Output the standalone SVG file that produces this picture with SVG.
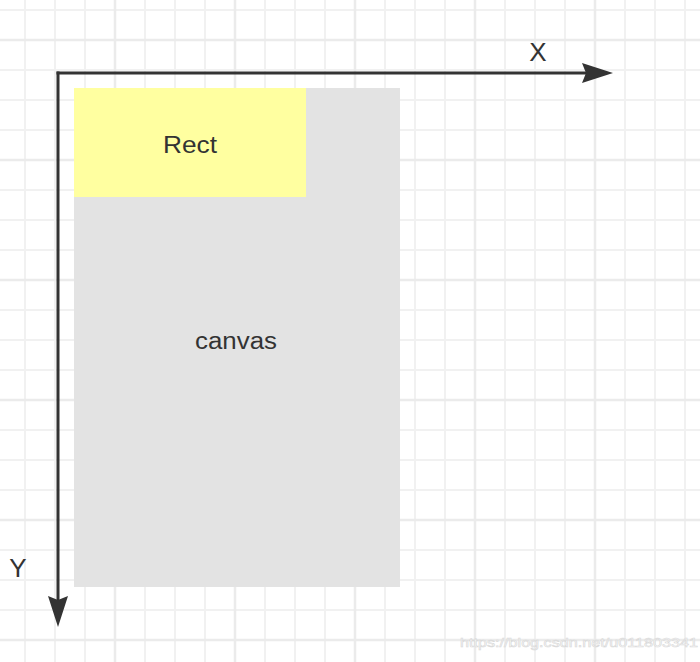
<svg xmlns="http://www.w3.org/2000/svg" width="700" height="662" viewBox="0 0 700 662">
  <style>
    .grid-minor { stroke: #f1f1f1; stroke-width: 2; fill: none; }
    .grid-major { stroke: #ebebeb; stroke-width: 2.5; fill: none; }
    .axis { stroke: #333333; stroke-width: 3; fill: none; }
    .label { font-family: "Liberation Sans", Arial, Helvetica, sans-serif; fill: #333333; text-anchor: middle; }
    .watermark { font-family: "Liberation Sans", Arial, sans-serif; font-size: 13px; fill: #ffffff; stroke: #d8d8d8; stroke-width: 0.6; }
  </style>
  <defs>
    <marker id="arrow" markerUnits="userSpaceOnUse" viewBox="0 0 31 20" markerWidth="31" markerHeight="20" refX="4" refY="10" orient="auto">
      <path d="M0 0 L31 10 L0 20 L4 10 Z" fill="#333333"/>
    </marker>
  </defs>
  <rect x="0" y="0" width="700" height="662" fill="#ffffff"/>
  <g id="grid">
    <path class="grid-minor" d="M25 0V662M55 0V662M85 0V662M145 0V662M175 0V662M205 0V662M265 0V662M295 0V662M325 0V662M385 0V662M415 0V662M445 0V662M505 0V662M535 0V662M565 0V662M625 0V662M655 0V662M685 0V662"/>
    <path class="grid-minor" d="M0 10H700M0 70H700M0 100H700M0 130H700M0 190H700M0 220H700M0 250H700M0 310H700M0 340H700M0 370H700M0 430H700M0 460H700M0 490H700M0 550H700M0 580H700M0 610H700"/>
    <path class="grid-major" d="M115 0V662M235 0V662M355 0V662M475 0V662M595 0V662"/>
    <path class="grid-major" d="M0 40H700M0 160H700M0 280H700M0 400H700M0 520H700M0 640H700"/>
  </g>
  <g id="canvas">
    <rect x="74" y="88" width="326" height="499" fill="#e3e3e3"/>
    <text class="label" x="236" y="349" font-size="23" textLength="82" lengthAdjust="spacingAndGlyphs">canvas</text>
  </g>
  <g id="rect">
    <rect x="74" y="88" width="232" height="109" fill="#ffffa0"/>
    <text class="label" x="190" y="153" font-size="23" textLength="54" lengthAdjust="spacingAndGlyphs">Rect</text>
  </g>
  <g id="connectors">
    <path id="x-axis" class="axis" d="M56.5 73H586" marker-end="url(#arrow)"/>
    <path id="y-axis" class="axis" d="M58 71.5V600" marker-end="url(#arrow)"/>
  </g>
  <g id="x-label">
    <text class="label" x="538" y="61" font-size="26">X</text>
  </g>
  <g id="y-label">
    <text class="label" x="18" y="577" font-size="26">Y</text>
  </g>
  <text class="watermark" x="460" y="647" textLength="238" lengthAdjust="spacingAndGlyphs">https://blog.csdn.net/u011803341</text>
</svg>
